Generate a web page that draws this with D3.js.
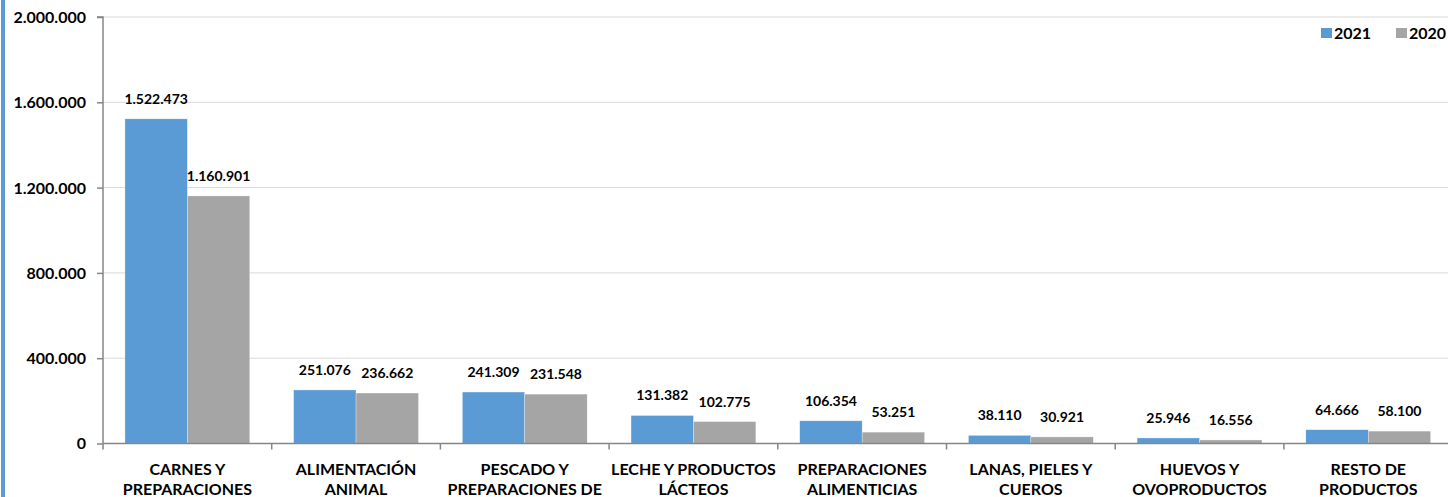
<!DOCTYPE html>
<html>
<head>
<meta charset="utf-8">
<script src="https://cdn.jsdelivr.net/npm/d3@7"></script>
<style>
  html, body { margin: 0; padding: 0; background: #fff; overflow: hidden; }
  svg { display: block; font-family: Lato, "Open Sans", sans-serif; font-weight: 700; }
</style>
</head>
<body>
<svg id="chart" width="1448" height="497"></svg>
<script>
const categories = [
  ["CARNES Y", "PREPARACIONES"],
  ["ALIMENTACIÓN", "ANIMAL"],
  ["PESCADO Y", "PREPARACIONES DE"],
  ["LECHE Y PRODUCTOS", "LÁCTEOS"],
  ["PREPARACIONES", "ALIMENTICIAS"],
  ["LANAS, PIELES Y", "CUEROS"],
  ["HUEVOS Y", "OVOPRODUCTOS"],
  ["RESTO DE", "PRODUCTOS"]
];
const values2021 = [1522473, 251076, 241309, 131382, 106354, 38110, 25946, 64666];
const values2020 = [1160901, 236662, 231548, 102775, 53251, 30921, 16556, 58100];
const seriesNames = ["2021", "2020"];
const seriesColors = ["#5b9bd5", "#a5a5a5"];
const yTicks = [0, 400000, 800000, 1200000, 1600000, 2000000];

(function () {
const svg = d3.select("#chart");
const W = 1448, H = 497;
const mLeft = 103, mRight = 1452.6, mTop = 17, mBottom = 443.5;

const fmt = v => d3.format(",")(v).replace(/,/g, ".");

// left blue border
svg.append("rect").attr("x", 1).attr("y", 0).attr("width", 4).attr("height", H).attr("fill", "#5b9bd5");

const keys = categories.map((c, i) => i);
const x = d3.scaleBand().domain(keys).range([mLeft, mRight]).paddingInner(0.26).paddingOuter(0.13);
const xs = d3.scaleBand().domain([0, 1]).range([0, x.bandwidth()]);
const y = d3.scaleLinear().domain([0, 2000000]).range([mBottom, mTop]);

// gridlines
svg.append("g").selectAll("line").data(yTicks.filter(t => t > 0)).join("line")
  .attr("x1", mLeft).attr("x2", W)
  .attr("y1", d => y(d)).attr("y2", d => y(d))
  .attr("stroke", "#d9d9d9").attr("stroke-width", 1);

// bars
const data = keys.map(i => [values2021[i], values2020[i]]);
const groups = svg.append("g").selectAll("g").data(data).join("g")
  .attr("transform", (d, i) => `translate(${x(i)},0)`);
groups.selectAll("rect").data(d => d.map((v, s) => ({v, s}))).join("rect")
  .attr("x", d => xs(d.s)).attr("width", xs.bandwidth())
  .attr("y", d => y(d.v)).attr("height", d => y(0) - y(d.v))
  .attr("fill", d => seriesColors[d.s])
  .attr("stroke", "#ffffff").attr("stroke-width", 0.5).attr("stroke-opacity", 0.6);
groups.selectAll("text").data(d => d.map((v, s) => ({v, s}))).join("text")
  .attr("x", d => xs(d.s) + xs.bandwidth() / 2)
  .attr("y", d => y(d.v) - 15)
  .attr("text-anchor", "middle").attr("font-size", 14).attr("fill", "#000")
  .text(d => fmt(d.v));

// y axis
const yAxis = d3.axisLeft(y).tickValues(yTicks).tickSize(6).tickPadding(11).tickFormat(fmt);
const yg = svg.append("g").attr("transform", `translate(${mLeft},0)`).call(yAxis);
yg.select(".domain").attr("stroke", "#868686").attr("stroke-width", 1.5).attr("d", `M-6,${y(2000000)}H0V${mBottom}`);
yg.selectAll(".tick line").attr("stroke", "#868686").attr("stroke-width", 1.5);
yg.selectAll(".tick text").attr("font-size", 16).attr("font-family", "Lato, sans-serif").attr("font-weight", 700).attr("fill", "#000").attr("dy", "0.34em");

// x axis line & ticks between categories
const xg = svg.append("g");
xg.append("line").attr("x1", mLeft).attr("x2", W).attr("y1", mBottom).attr("y2", mBottom)
  .attr("stroke", "#868686").attr("stroke-width", 1.5);
const step = x.step();
const bounds = d3.range(categories.length + 1).map(i => x(0) - x.paddingOuter() * step + i * step);
xg.selectAll("line.tk").data(bounds).join("line").attr("class", "tk")
  .attr("x1", d => d).attr("x2", d => d).attr("y1", mBottom).attr("y2", mBottom + 6)
  .attr("stroke", "#868686").attr("stroke-width", 1.5);

// category labels
const lab = svg.append("g").selectAll("text").data(categories).join("text")
  .attr("text-anchor", "middle").attr("font-size", 16).attr("fill", "#000");
lab.each(function(d, i) {
  const t = d3.select(this);
  d.forEach((line, j) => {
    t.append("tspan").attr("x", x(i) + x.bandwidth() / 2).attr("y", 475 + j * 20).text(line);
  });
});

// legend
const legend = svg.append("g");
const legX = [1321, 1396];
seriesNames.forEach((n, i) => {
  legend.append("rect").attr("x", legX[i]).attr("y", 28).attr("width", 11).attr("height", 10).attr("fill", seriesColors[i]);
  legend.append("text").attr("x", legX[i] + 13).attr("y", 38.5).attr("font-size", 16).attr("fill", "#000").text(n);
});
})();
</script>
</body>
</html>
